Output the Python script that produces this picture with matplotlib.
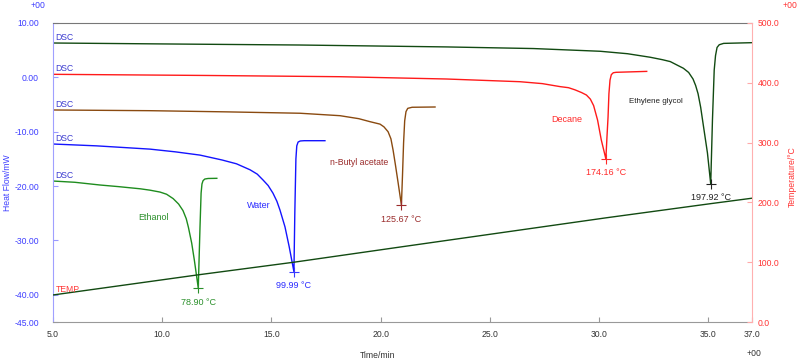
import matplotlib.pyplot as plt
import numpy as np

plt.rcParams["font.family"] = ["Liberation Sans", "DejaVu Sans"]
plt.rcParams["font.size"] = 6.2

# DSC traces (time in min, heat flow in mW)
ethanol_t = [5.0, 6.0, 7.15, 8.0, 9.0, 9.44, 9.9, 10.2, 10.5, 10.75, 10.95, 11.1, 11.2,
             11.35, 11.47, 11.65, 11.73, 11.78, 11.82, 11.87, 11.95, 12.1, 12.5]
ethanol_hf = [-19.07, -19.3, -19.8, -20.1, -20.5, -20.75, -21.1, -21.5, -22.3, -23.3, -24.5, -26.0, -27.6,
              -30.5, -33.6, -38.75, -27.5, -21.3, -19.6, -19.0, -18.7, -18.6, -18.57]

water_t = [5.0, 7.0, 9.44, 10.6, 11.73, 12.74, 13.4, 14.02, 14.35, 14.62, 14.85, 15.07, 15.25,
           15.39, 15.62, 15.81, 16.03, 16.07, 16.12, 16.16, 16.22, 16.32, 16.5, 17.45]
water_hf = [-12.26, -12.6, -13.2, -13.7, -14.3, -15.2, -15.9, -17.0, -17.8, -18.9, -19.9, -21.3, -22.8,
            -24.4, -27.5, -31.1, -35.75, -25.0, -15.0, -12.6, -11.9, -11.7, -11.65, -11.65]

butyl_t = [5.0, 9.44, 13.0, 16.31, 18.14, 19.0, 19.51, 19.97, 20.15, 20.34, 20.47, 20.57, 20.68,
           20.8, 20.95, 21.0, 21.05, 21.1, 21.16, 21.24, 21.44, 22.49]
butyl_hf = [-6.0, -6.13, -6.35, -6.6, -7.05, -7.6, -8.15, -8.6, -9.1, -10.0, -11.3, -13.4, -16.2,
            -19.4, -23.5, -18.0, -12.0, -8.0, -6.3, -5.7, -5.5, -5.45]

decane_t = [5.0, 12.0, 18.14, 23.0, 26.38, 27.4, 28.21, 28.6, 28.9, 29.2, 29.42, 29.6, 29.75,
            29.93, 30.1, 30.31, 30.36, 30.41, 30.45, 30.5, 30.56, 30.65, 30.78, 32.18]
decane_hf = [0.56, 0.35, 0.12, -0.3, -0.8, -1.15, -1.7, -1.9, -2.3, -2.8, -3.25, -4.0, -5.2,
             -7.85, -11.5, -15.0, -11.0, -7.3, -3.0, -0.5, 0.5, 0.85, 0.93, 1.1]

glycol_t = [5.0, 10.0, 16.31, 23.0, 27.0, 30.05, 31.3, 32.34, 32.9, 33.26, 33.6, 33.86, 34.1,
            34.3, 34.42, 34.53, 34.65, 34.76, 34.96, 35.11, 35.19, 35.27, 35.33, 35.4, 35.5,
            35.7, 37.0]
glycol_hf = [6.32, 6.15, 5.95, 5.6, 5.3, 4.8, 4.35, 3.7, 3.25, 2.9, 2.2, 1.67, 0.9,
             -0.3, -1.5, -3.0, -5.5, -8.5, -13.9, -19.6, -7.8, 1.35, 4.0, 5.5, 6.0,
             6.25, 6.38]

# temperature programme (min, degC)
temp_t = [5.0, 11.65, 16.03, 20.95, 30.31, 35.11, 37.0]
temp_c = [45.2, 78.9, 99.99, 125.67, 174.16, 197.92, 207.0]

names = ["Ethanol", "Water", "n-Butyl acetate", "Decane", "Ethylene glycol"]
peak_temps = [78.90, 99.99, 125.67, 174.16, 197.92]

x_ticks = [5.0, 10.0, 15.0, 20.0, 25.0, 30.0, 35.0, 37.0]
hf_ticks = [10.0, 0.0, -10.0, -20.0, -30.0, -40.0, -45.0]
temp_ticks = [0.0, 100.0, 200.0, 300.0, 400.0, 500.0]

curves = [
    (ethanol_t, ethanol_hf, "#1e8c1e", "#2a8f2a", "#2a8f2a"),
    (water_t, water_hf, "#1414ff", "#2a2aff", "#3a3aff"),
    (butyl_t, butyl_hf, "#8a4a10", "#9a2b2b", "#9a2b2b"),
    (decane_t, decane_hf, "#ff1a1a", "#ff2a2a", "#ff2a2a"),
    (glycol_t, glycol_hf, "#124a12", "#222222", "#222222"),
]
name_pos = [(9.58, -25.7), (14.43, -23.66), (19.01, -15.75), (28.53, -7.66), (32.61, -4.35)]
name_size = [6.5, 6.5, 6.3, 6.5, 5.8]

fig = plt.figure(figsize=(8.0, 3.62), dpi=100)
ax = fig.add_axes([53 / 800, 1 - 322 / 362, 699 / 800, 299 / 362])
ax2 = ax.twinx()

for (t, hf, col, tcol, pcol), name, pt, pos, fs in zip(curves, names, peak_temps, name_pos, name_size):
    ax.plot(t, hf, color=col, lw=1.0)
    i = int(np.argmin(hf))
    ax.plot(t[i], hf[i], marker="+", ms=7, mew=0.8, color=pcol)
    ax.annotate(f"{pt:.2f} °C", (t[i], hf[i]), xytext=(0, -14), textcoords="offset pixels",
                ha="center", va="center", color=tcol, fontsize=6.5)
    ax.text(pos[0], pos[1], name, color=tcol, ha="center", va="center", fontsize=fs)
    ax.annotate("DSC", (t[0], hf[0]), xytext=(2, 1), textcoords="offset pixels",
                ha="left", va="bottom", color="#3a3ad0")

ax2.plot(temp_t, temp_c, color="#124a12", lw=1.0)
ax2.annotate("TEMP", (temp_t[0], temp_c[0]), xytext=(3, 1), textcoords="offset pixels",
             ha="left", va="bottom", color="#ff3a3a")

ax.set_xlim(5.0, 37.0)
ax.set_ylim(-45.0, 10.0)
ax2.set_ylim(0.0, 500.0)

ax.set_xticks(x_ticks)
ax.set_xticklabels([f"{v:.1f}" for v in x_ticks])
ax.set_yticks(hf_ticks)
ax.set_yticklabels([f"{v:.2f}" for v in hf_ticks])
ax2.set_yticks(temp_ticks)
ax2.set_yticklabels([f"{v:.1f}" for v in temp_ticks])

ax.tick_params(axis="x", direction="in", length=3.5, pad=6, colors="#999999", labelcolor="#333333")
ax.tick_params(axis="y", direction="in", length=3.5, pad=10, colors="#9a9aff", labelcolor="#3d3dff")
ax2.tick_params(axis="y", direction="in", length=3.5, pad=4, colors="#ffaaaa", labelcolor="#ff3333")

ax.spines["top"].set_color("#777777")
ax.spines["bottom"].set_color("#999999")
ax.spines["left"].set_color("#a0a0ff")
ax.spines["right"].set_visible(False)
ax2.spines["right"].set_color("#ffb0b0")
ax2.spines["left"].set_visible(False)
ax2.spines["top"].set_visible(False)
ax2.spines["bottom"].set_visible(False)

fig.text(7 / 800, 1 - 183 / 362, "Heat Flow/mW", rotation=90, ha="center", va="center", color="#3d3dff")
fig.text(792 / 800, 1 - 177 / 362, "Temperature/°C", rotation=90, ha="center", va="center", color="#ff3333")
fig.text(378 / 800, 1 - 356 / 362, "Time/min", ha="center", va="center", color="#333333")
fig.text(38 / 800, 1 - 6 / 362, "+00", ha="center", va="center", color="#3d3dff")
fig.text(790 / 800, 1 - 6 / 362, "+00", ha="center", va="center", color="#ff3333")
fig.text(754 / 800, 1 - 354 / 362, "+00", ha="center", va="center", color="#333333")

fig.savefig("out.png", dpi=100)
